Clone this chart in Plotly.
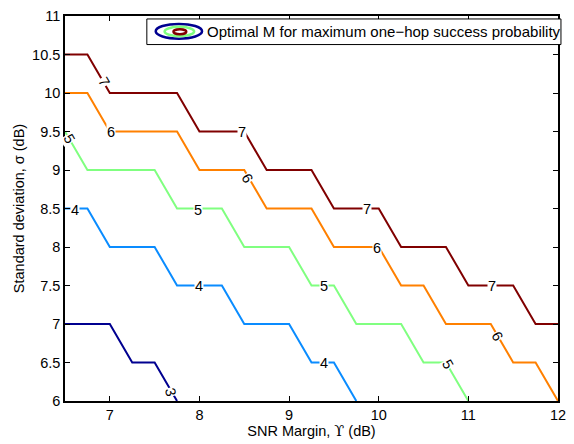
import plotly.graph_objects as go

# Contour levels (optimal M) and their staircase boundary vertices
levels = [3, 4, 5, 6, 7]
colors = ["#000090", "#0A8CFF", "#80FF80", "#FF8000", "#800000"]

c3_x = [6.5, 7.0, 7.25, 7.5, 7.75]
c3_y = [7.0, 7.0, 6.5, 6.5, 6.0]

c4_x = [6.5, 6.75, 7.0, 7.5, 7.75, 8.25, 8.5, 9.0, 9.25, 9.5, 9.75]
c4_y = [8.5, 8.5, 8.0, 8.0, 7.5, 7.5, 7.0, 7.0, 6.5, 6.5, 6.0]

c5_x = [6.5, 6.75, 7.5, 7.75, 8.25, 8.5, 9.0, 9.25, 9.5, 9.75, 10.25, 10.5, 10.75, 11.0]
c5_y = [9.5, 9.0, 9.0, 8.5, 8.5, 8.0, 8.0, 7.5, 7.5, 7.0, 7.0, 6.5, 6.5, 6.0]

c6_x = [6.5, 6.75, 7.0, 7.75, 8.0, 8.5, 8.75, 9.25, 9.5, 10.0, 10.25, 10.5, 10.75, 11.25, 11.5, 11.75, 12.0]
c6_y = [10.0, 10.0, 9.5, 9.5, 9.0, 9.0, 8.5, 8.5, 8.0, 8.0, 7.5, 7.5, 7.0, 7.0, 6.5, 6.5, 6.0]

c7_x = [6.5, 6.75, 7.0, 7.75, 8.0, 8.5, 8.75, 9.25, 9.5, 10.0, 10.25, 10.75, 11.0, 11.5, 11.75, 12.0]
c7_y = [10.5, 10.5, 10.0, 10.0, 9.5, 9.5, 9.0, 9.0, 8.5, 8.5, 8.0, 8.0, 7.5, 7.5, 7.0, 7.0]

contours_x = [c3_x, c4_x, c5_x, c6_x, c7_x]
contours_y = [c3_y, c4_y, c5_y, c6_y, c7_y]

# Inline contour labels: (level, x, y, angle)
label_level = [7, 7, 7, 7, 6, 6, 6, 6, 5, 5, 5, 5, 4, 4, 4, 3]
label_x = [6.93, 8.48, 9.87, 11.26, 7.01, 8.53, 9.98, 11.32, 6.55, 7.98, 9.39, 10.77, 6.61, 8.0, 9.39, 7.68]
label_y = [10.15, 9.5, 8.5, 7.5, 9.5, 8.89, 7.99, 6.84, 9.4, 8.48, 7.5, 6.48, 8.48, 7.5, 6.49, 6.12]
label_angle = [60, 0, 0, 0, 0, 60, 0, 60, 60, 0, 0, 60, 0, 0, 0, 75]

x_ticks = [7, 8, 9, 10, 11, 12]
y_ticks = [6, 6.5, 7, 7.5, 8, 8.5, 9, 9.5, 10, 10.5, 11]

FONT = "Liberation Sans, Arial, Helvetica, sans-serif"
FS = 14.5

fig = go.Figure()
for lv, xs, ys, col in zip(levels, contours_x, contours_y, colors):
    fig.add_trace(go.Scatter(x=xs, y=ys, mode="lines",
                             line=dict(color=col, width=2),
                             showlegend=False, hoverinfo="skip", cliponaxis=True))

for lv, lx, ly, la in zip(label_level, label_x, label_y, label_angle):
    fig.add_annotation(x=lx, y=ly, text=str(lv), showarrow=False,
                       textangle=la, bgcolor="white", borderpad=0,
                       font=dict(family=FONT, size=FS, color="black"))

axis_common = dict(showgrid=False, zeroline=False, showline=True, mirror="ticks",
                   linecolor="black", linewidth=1.5, ticks="inside", ticklen=5,
                   tickcolor="black", tickwidth=1,
                   tickfont=dict(family=FONT, size=FS, color="black"))

fig.update_xaxes(range=[6.5, 12], tickvals=x_ticks, ticktext=[str(v) for v in x_ticks],
                 title=dict(text="SNR Margin, <span style=\"font-family:'DejaVu Serif'\">\u03d2</span> (dB)",
                            standoff=3,
                            font=dict(family=FONT, size=FS, color="black")),
                 **axis_common)
fig.update_yaxes(range=[6, 11], tickvals=y_ticks,
                 ticktext=[("%g" % v) for v in y_ticks],
                 title=dict(text="Standard deviation, \u03c3 (dB)", standoff=4,
                            font=dict(family=FONT, size=FS, color="black")),
                 **axis_common)

# Legend box drawn in paper coordinates (plot area: 500 x 391 px)
def px_x(p):
    return (p - 65) / 500.0

def px_y(p):
    return (401 - p) / 391.0

shapes = [
    dict(type="rect", xref="paper", yref="paper", x0=px_x(148), x1=px_x(568),
         y0=px_y(39), y1=px_y(13), line=dict(color="black", width=1), fillcolor="white", layer="above"),
    dict(type="circle", xref="paper", yref="paper", x0=px_x(157), x1=px_x(204),
         y0=px_y(33), y1=px_y(18), line=dict(color="#000090", width=2.5), layer="above"),
    dict(type="circle", xref="paper", yref="paper", x0=px_x(166), x1=px_x(196),
         y0=px_y(30.5), y1=px_y(21), line=dict(color="#80FF80", width=2.5), layer="above"),
    dict(type="circle", xref="paper", yref="paper", x0=px_x(175), x1=px_x(188),
         y0=px_y(28.5), y1=px_y(23.5), line=dict(color="#800000", width=2.5), layer="above"),
]
fig.update_layout(shapes=shapes)
fig.add_annotation(xref="paper", yref="paper", x=px_x(207), y=px_y(26), xanchor="left",
                   yanchor="middle", showarrow=False,
                   text="Optimal M for maximum one\u2212hop success probability",
                   font=dict(family=FONT, size=15, color="black"))

fig.update_layout(width=574, height=444,
                  margin=dict(l=65, r=8, t=10, b=43),
                  paper_bgcolor="white", plot_bgcolor="white")

fig.write_html("out.html")
